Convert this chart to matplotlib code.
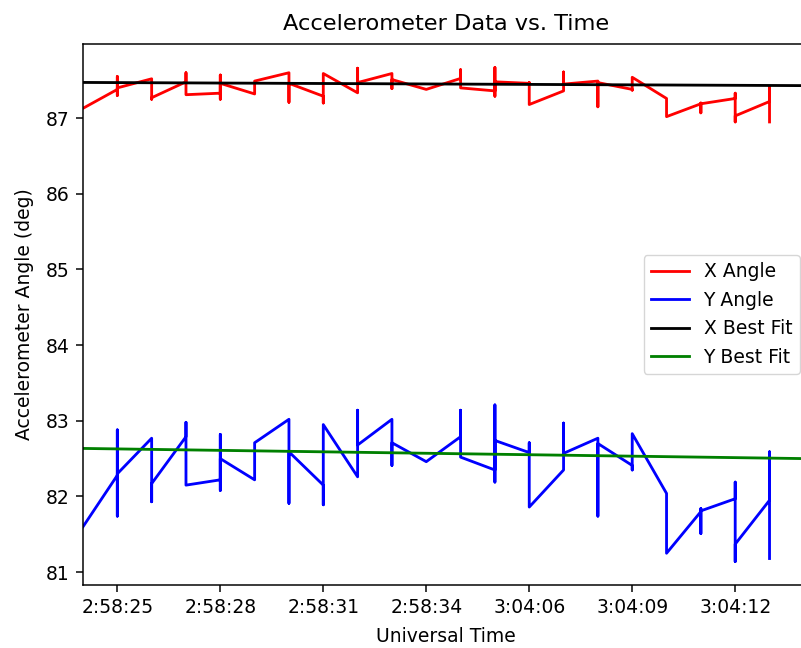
import matplotlib
matplotlib.use("Agg")
import matplotlib.pyplot as plt

# Unique time categories (in order)
categories = ['2:58:24', '2:58:25', '2:58:26', '2:58:27', '2:58:28', '2:58:29',
              '2:58:30', '2:58:31', '2:58:32', '2:58:33', '2:58:34', '2:58:35',
              '3:04:05', '3:04:06', '3:04:07', '3:04:08', '3:04:09', '3:04:10',
              '3:04:11', '3:04:12', '3:04:13']

# Samples per category (several readings per second)
x_angle_samples = [
    [87.13],
    [87.38, 87.55, 87.30, 87.40],
    [87.52, 87.25, 87.27],
    [87.48, 87.60, 87.31],
    [87.33, 87.57, 87.25, 87.46],
    [87.32, 87.49],
    [87.60, 87.21, 87.46],
    [87.29, 87.20, 87.59],
    [87.335, 87.66, 87.47],
    [87.59, 87.39, 87.51],
    [87.38],
    [87.525, 87.64, 87.40],
    [87.36, 87.67, 87.29, 87.48],
    [87.46, 87.47, 87.18],
    [87.36, 87.61, 87.45],
    [87.49, 87.15, 87.47],
    [87.38, 87.37, 87.54],
    [87.26, 87.02],
    [87.19, 87.20, 87.07, 87.19],
    [87.26, 87.33, 86.95, 87.03],
    [87.22, 87.41, 86.95],
]
y_angle_samples = [
    [81.60],
    [82.28, 82.88, 81.74, 82.30],
    [82.77, 81.93, 82.17],
    [82.79, 82.98, 82.15],
    [82.22, 82.82, 82.08, 82.50],
    [82.22, 82.71],
    [83.02, 81.91, 82.59],
    [82.15, 81.89, 82.95],
    [82.26, 83.14, 82.68],
    [83.02, 82.41, 82.71],
    [82.46],
    [82.79, 83.14, 82.52],
    [82.35, 83.21, 82.19, 82.74],
    [82.58, 82.71, 81.86],
    [82.35, 82.97, 82.57],
    [82.77, 81.74, 82.70],
    [82.41, 82.35, 82.83],
    [82.04, 81.25],
    [81.80, 81.84, 81.51, 81.81],
    [81.97, 82.19, 81.14, 81.37],
    [81.95, 82.59, 81.18],
]

# Linear best fit (intercept at first category, slope per category step)
x_fit_intercept, x_fit_slope = 87.472, -0.0020
y_fit_intercept, y_fit_slope = 82.635, -0.0064

tick_labels = categories[1::3]

# Flatten into time / value series
times, x_angle, y_angle = [], [], []
for cat, xs, ys in zip(categories, x_angle_samples, y_angle_samples):
    for xv, yv in zip(xs, ys):
        times.append(cat)
        x_angle.append(xv)
        y_angle.append(yv)

pos_of = {c: i for i, c in enumerate(categories)}
xpos = [pos_of[t] for t in times]

# Reference was rendered at ~135 dpi with default sizes -> scale by 1.35 at 100 dpi
k = 1.35
plt.rcParams['font.family'] = ['DejaVu Sans']
plt.rcParams['font.size'] = 10 * k

fig = plt.figure(figsize=(8.01, 6.48), dpi=100)
ax = fig.add_axes([83 / 801, 1 - 585 / 648, (809 - 83) / 801, (585 - 44) / 648])

lw = 1.5 * k
ax.plot(xpos, x_angle, color='red', lw=lw, label='X Angle')
ax.plot(xpos, y_angle, color='blue', lw=lw, label='Y Angle')
ax.axline((0, x_fit_intercept), slope=x_fit_slope, color='black', lw=lw, label='X Best Fit')
ax.axline((0, y_fit_intercept), slope=y_fit_slope, color='green', lw=lw, label='Y Best Fit')

ax.set_xlim(0, 21.15)
ax.set_ylim(80.83, 87.98)
ax.set_xticks([pos_of[c] for c in tick_labels])
ax.set_xticklabels(tick_labels)
ax.set_yticks([81, 82, 83, 84, 85, 86, 87])
ax.tick_params(axis='both', length=3.5 * k, width=0.8 * k, pad=3.5 * k, labelsize=10 * k)
for s in ax.spines.values():
    s.set_linewidth(0.8 * k)

ax.set_title('Accelerometer Data vs. Time', fontsize=12 * k, pad=6 * k + 2)
ax.set_xlabel('Universal Time', fontsize=10 * k, labelpad=4 * k + 2)
ax.set_ylabel('Accelerometer Angle (deg)', fontsize=10 * k, labelpad=4 * k + 3)
ax.legend(loc='center right', fontsize=10 * k)

fig.savefig('out.png', dpi=100)
